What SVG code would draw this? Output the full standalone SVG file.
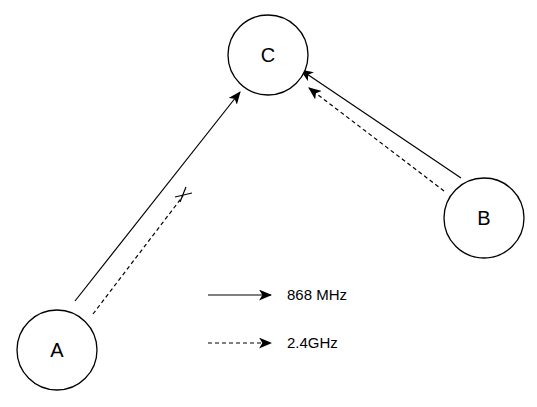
<svg xmlns="http://www.w3.org/2000/svg" width="537" height="407" viewBox="0 0 537 407">
  <style>
    .node circle { fill: #fff; stroke: #000; stroke-width: 1.3; }
    .node text { font-family: "Liberation Sans", Arial, sans-serif; font-size: 20px; fill: #000; text-anchor: middle; }
    .link { stroke: #000; stroke-width: 1.2; fill: none; }
    .dash { stroke-dasharray: 4 3; }
    .legend text { font-family: "Liberation Sans", Arial, sans-serif; font-size: 15px; fill: #000; }
  </style>
  <defs>
    <marker id="arrow" viewBox="0 0 12 10" refX="11" refY="5" markerWidth="13" markerHeight="11" markerUnits="userSpaceOnUse" orient="auto">
      <path d="M0,0 L12,5 L0,10 L3,5 Z" fill="#000"/>
    </marker>
  </defs>
  <rect width="537" height="407" fill="#fff"/>

  <g id="connectors">
    <line class="link" x1="75" y1="301" x2="240" y2="92" marker-end="url(#arrow)"/>
    <line class="link dash" x1="93" y1="314" x2="183" y2="196"/>
    <line class="link" x1="175" y1="197" x2="192" y2="193"/>
    <line class="link" x1="180" y1="202" x2="186" y2="187"/>
    <line class="link" x1="461" y1="178" x2="301" y2="70" marker-end="url(#arrow)"/>
    <line class="link dash" x1="444" y1="191" x2="309" y2="88" marker-end="url(#arrow)"/>
  </g>

  <g id="node-C" class="node">
    <circle cx="268" cy="55" r="40"/>
    <text x="268" y="62">C</text>
  </g>
  <g id="node-A" class="node">
    <circle cx="57" cy="350" r="40"/>
    <text x="57" y="357">A</text>
  </g>
  <g id="node-B" class="node">
    <circle cx="484" cy="218" r="40"/>
    <text x="484" y="225">B</text>
  </g>

  <g id="legend" class="legend">
    <line class="link" x1="208" y1="295" x2="271" y2="295" marker-end="url(#arrow)"/>
    <text x="287" y="300">868 MHz</text>
    <line class="link dash" x1="208" y1="343" x2="271" y2="343" marker-end="url(#arrow)"/>
    <text x="287" y="348">2.4GHz</text>
  </g>
</svg>
